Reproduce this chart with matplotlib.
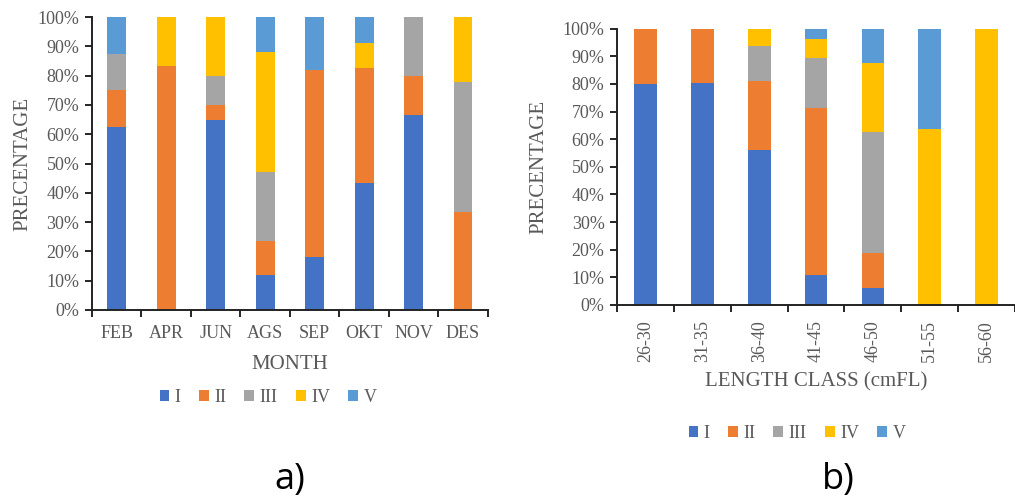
import numpy as np
import matplotlib.pyplot as plt
from matplotlib.ticker import FixedLocator, PercentFormatter

# ------------------ Datos ------------------
stages = ["I", "II", "III", "IV", "V"]
colors = ["#4472C4", "#ED7D31", "#A5A5A5", "#FFC000", "#5B9BD5"]

months = ["FEB", "APR", "JUN", "AGS", "SEP", "OKT", "NOV", "DES"]
month_I = [62.5, 0, 65.0, 11.8, 18.2, 43.5, 66.7, 0]
month_II = [12.5, 83.3, 5.0, 11.8, 63.6, 39.1, 13.3, 33.3]
month_III = [12.5, 0, 10.0, 23.5, 0, 0, 20.0, 44.5]
month_IV = [0, 16.7, 20.0, 41.1, 0, 8.7, 0, 22.2]
month_V = [12.5, 0, 0, 11.8, 18.2, 8.7, 0, 0]

lengths = ["26-30", "31-35", "36-40", "41-45", "46-50", "51-55", "56-60"]
len_I = [80.0, 80.5, 56.25, 10.7, 6.25, 0, 0]
len_II = [20.0, 19.5, 25.0, 60.7, 12.5, 0, 0]
len_III = [0, 0, 12.5, 17.9, 43.75, 0, 0]
len_IV = [0, 0, 6.25, 7.1, 25.0, 63.6, 100.0]
len_V = [0, 0, 0, 3.6, 12.5, 36.4, 0]

SERIF = "Liberation Serif"
GREY = "#595959"


def stacked(ax, cats, series, width, xlabel, rot, xpad):
    x = np.arange(len(cats))
    bottom = np.zeros(len(cats))
    handles = []
    for vals, name, col in zip(series, stages, colors):
        vals = np.array(vals, dtype=float)
        h = ax.bar(x, vals, width, bottom=bottom, color=col, label=name)
        handles.append(h)
        bottom += vals
    ax.set_xlim(-0.5, len(cats) - 0.5)
    ax.set_ylim(0, 100)
    ax.set_yticks(np.arange(0, 101, 10))
    ax.yaxis.set_major_formatter(PercentFormatter(decimals=0))
    ax.set_xticks(x)
    ax.set_xticklabels(cats, rotation=rot)
    ax.xaxis.set_minor_locator(FixedLocator(np.arange(-0.5, len(cats), 1.0)))
    ax.tick_params(axis="x", which="major", length=0, pad=xpad, labelsize=13,
                   labelcolor=GREY)
    ax.tick_params(axis="x", which="minor", length=5, width=1.2, direction="out")
    ax.tick_params(axis="y", length=5, width=1.2, labelsize=13, labelcolor=GREY, pad=4)
    for lab in ax.get_xticklabels() + ax.get_yticklabels():
        lab.set_family(SERIF)
    for s in ["top", "right"]:
        ax.spines[s].set_visible(False)
    for s in ["left", "bottom"]:
        ax.spines[s].set_linewidth(1.4)
        ax.spines[s].set_color("#222222")
    ax.set_ylabel("PRECENTAGE", family=SERIF, fontsize=15, color=GREY, labelpad=4)
    ax.set_xlabel(xlabel, family=SERIF, fontsize=15, color=GREY, labelpad=5)
    return handles


fig = plt.figure(figsize=(10.15, 5.04), dpi=100)

legend_kw = dict(loc="center", bbox_transform=fig.transFigure, ncol=5, frameon=False,
                 handlelength=0.55, handleheight=0.55, handletextpad=0.3,
                 columnspacing=1.0, prop={"family": SERIF, "size": 13},
                 labelcolor=GREY)

ax1 = fig.add_axes([0.0906, 0.385, 0.39, 0.581])
h1 = stacked(ax1, months, [month_I, month_II, month_III, month_IV, month_V],
             0.38, "MONTH", 0, 11)
ax1.xaxis.labelpad = 9
ax1.legend(h1, stages, bbox_to_anchor=(268 / 1015, 1 - 397 / 504), **legend_kw)

ax2 = fig.add_axes([0.608, 0.395, 0.392, 0.548])
h2 = stacked(ax2, lengths, [len_I, len_II, len_III, len_IV, len_V],
             0.4, "LENGTH CLASS (cmFL)", 90, 11)
ax2.yaxis.labelpad = 10
ax2.xaxis.labelpad = 7
ax2.legend(h2, stages, bbox_to_anchor=(797 / 1015, 1 - 433 / 504), **legend_kw)

fig.text(290 / 1015, 1 - 480 / 504, "a)", ha="center", va="center",
         family="Open Sans", fontsize=26)
fig.text(838 / 1015, 1 - 480 / 504, "b)", ha="center", va="center",
         family="Open Sans", fontsize=26)

fig.savefig("out.png", dpi=100)
